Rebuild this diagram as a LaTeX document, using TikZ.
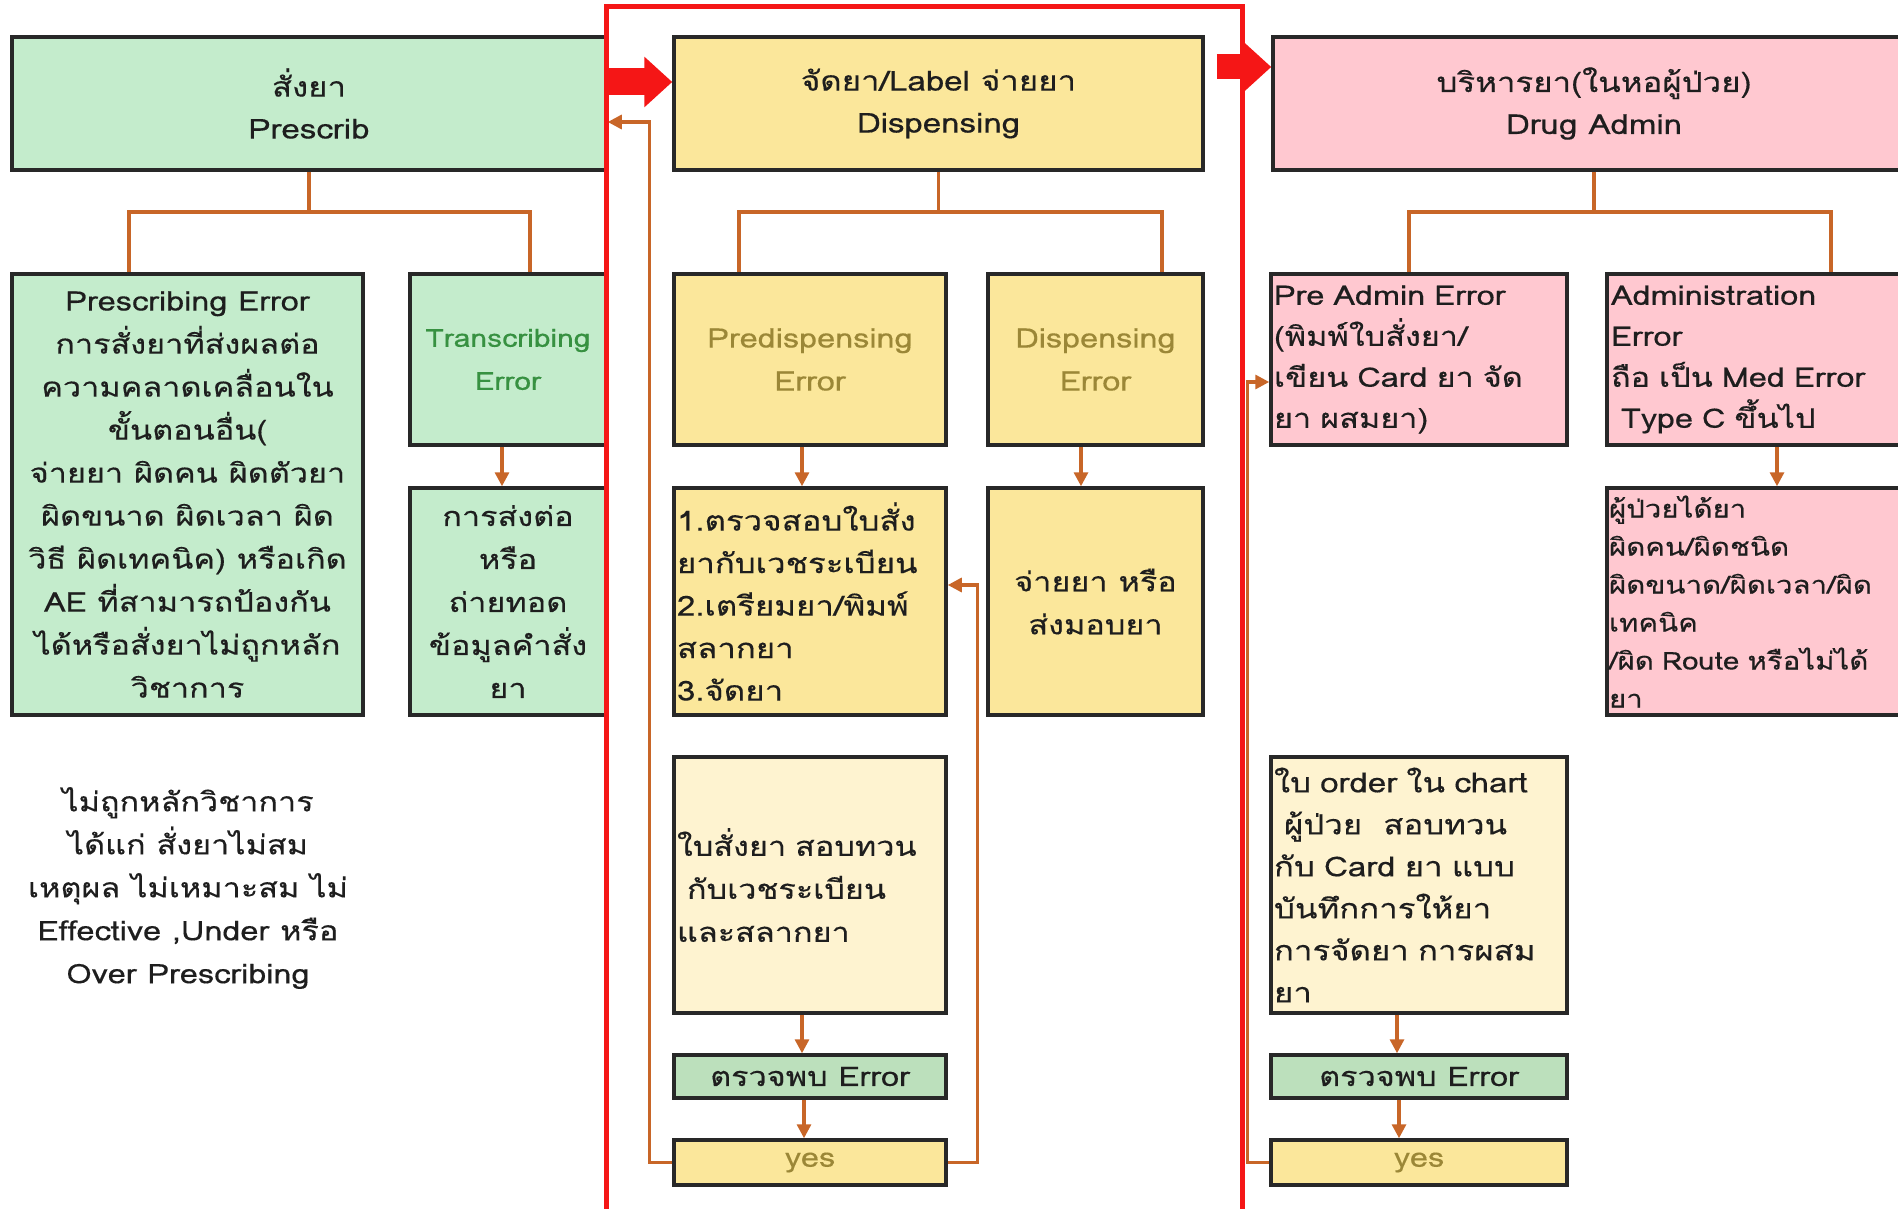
\documentclass[tikz,border=0pt]{standalone}
\usepackage{fontspec}
\setmainfont[Script=Thai,FakeStretch=1.2,FakeBold=0.35]{Loma}
\usetikzlibrary{arrows.meta,calc}
\definecolor{gfill}{RGB}{196,236,204}
\definecolor{yfill}{RGB}{251,231,155}
\definecolor{pfill}{RGB}{255,200,208}
\definecolor{cfill}{RGB}{254,243,208}
\definecolor{efill}{RGB}{188,224,188}
\definecolor{orng}{RGB}{200,102,40}
\definecolor{redl}{RGB}{245,22,22}
\definecolor{bord}{RGB}{40,40,40}
\definecolor{txt}{RGB}{30,30,30}
\definecolor{gtxt}{RGB}{55,145,65}
\definecolor{ytxt}{RGB}{155,135,55}
\tikzset{
  box/.style={draw=bord, line width=3.5pt, inner sep=0pt, text=txt, align=center,
    font=\fontsize{27}{43}\selectfont},
  titlebox/.style={box, minimum height=133pt, font=\fontsize{27.5}{42}\selectfont},
  lbox/.style={box, align=left, inner xsep=5pt},
  conn/.style={draw=orng, line width=3.2pt},
  arr/.style={conn, -{Triangle[length=14pt,width=14pt]}},
  bigarr/.style={draw=redl, -{Triangle[length=28pt,width=49pt]}},
}
\begin{document}
\begin{tikzpicture}[x=1pt,y=-1pt]
\useasboundingbox (0,0) rectangle (1898,1209);
\clip (0,0) rectangle (1898,1209);
\fill[white] (0,0) rectangle (1898,1209);

% titles
\node[titlebox, fill=gfill, minimum width=594pt] (presc) at (309,103.5) {สั่งยา\\Prescrib};
\node[titlebox, fill=yfill, minimum width=529pt] (disp) at (938.5,103.5) {จัดยา/Label จ่ายยา\\Dispensing};
\node[titlebox, fill=pfill, minimum width=642pt] (drug) at (1594,103.5) {บริหารยา(ในหอผู้ป่วย)\\Drug Admin};

% prescrib column
\node[box, fill=gfill, minimum width=351pt, minimum height=441pt] (perr) at (187.5,494.5)
  {Prescribing Error\\การสั่งยาที่ส่งผลต่อ\\ความคลาดเคลื่อนใน\\ขั้นตอนอื่น(\\จ่ายยา ผิดคน ผิดตัวยา\\ผิดขนาด ผิดเวลา ผิด\\วิธี ผิดเทคนิค) หรือเกิด\\AE ที่สามารถป้องกัน\\ได้หรือสั่งยาไม่ถูกหลัก\\วิชาการ};
\node[box, fill=gfill, minimum width=196pt, minimum height=171pt, text=gtxt, font=\fontsize{25}{43}\selectfont] (terr) at (508,359.5) {Transcribing\\Error};
\node[box, fill=gfill, minimum width=196pt, minimum height=227pt] (tres) at (508,601.5) {การส่งต่อ\\หรือ\\ถ่ายทอด\\ข้อมูลคำสั่ง\\ยา};
\node[align=center, text=txt, font=\fontsize{27}{43}\selectfont] (note) at (188,888)
  {ไม่ถูกหลักวิชาการ\\ได้แก่ สั่งยาไม่สม\\เหตุผล ไม่เหมาะสม ไม่\\Effective ,Under หรือ\\Over Prescribing};

% dispensing column
\node[box, fill=yfill, minimum width=272pt, minimum height=171pt, text=ytxt] (pderr) at (810,359.5) {Predispensing\\Error};
\node[box, fill=yfill, minimum width=215pt, minimum height=171pt, text=ytxt] (derr) at (1095.5,359.5) {Dispensing\\Error};
\node[lbox, fill=yfill, minimum width=272pt, minimum height=227pt, text width=266pt, inner xsep=3pt, font=\fontsize{27.5}{42.5}\selectfont] (pd1) at (810,601.5)
  {1.ตรวจสอบใบสั่ง\\ยากับเวชระเบียน\\2.เตรียมยา/พิมพ์\\สลากยา\\3.จัดยา};
\node[box, fill=yfill, minimum width=215pt, minimum height=227pt] (d1) at (1095.5,601.5) {จ่ายยา หรือ\\ส่งมอบยา};
\node[lbox, fill=cfill, minimum width=272pt, minimum height=256pt, text width=266pt, inner xsep=3pt] (chk1) at (810,885)
  {ใบสั่งยา สอบทวน\\\hspace*{10pt}กับเวชระเบียน\\และสลากยา};
\node[box, fill=efill, minimum width=272pt, minimum height=43pt] (det1) at (810,1076.5) {ตรวจพบ Error};
\node[box, fill=yfill, minimum width=272pt, minimum height=45pt, text=ytxt] (yes1) at (810,1162.5) {yes};

% drug admin column
\node[lbox, fill=pfill, minimum width=296pt, minimum height=171pt, text width=290pt, inner xsep=3pt, font=\fontsize{27}{41}\selectfont] (paerr) at (1419,359.5)
  {Pre Admin Error\\(พิมพ์ใบสั่งยา/\\เขียน Card ยา จัด\\ยา ผสมยา)};
\node[lbox, fill=pfill, minimum width=308pt, minimum height=171pt, text width=300pt, inner xsep=4pt, font=\fontsize{27}{41}\selectfont] (aerr) at (1761,359.5)
  {Administration\\Error\\ถือ เป็น Med Error\\\hspace*{10pt}Type C ขึ้นไป};
\node[lbox, fill=pfill, minimum width=308pt, minimum height=227pt, text width=304pt, inner xsep=2pt, font=\fontsize{24.5}{38}\selectfont] (a1) at (1761,601.5)
  {ผู้ป่วยได้ยา\\ผิดคน/ผิดชนิด\\ผิดขนาด/ผิดเวลา/ผิด\\เทคนิค\\/ผิด Route หรือไม่ได้\\ยา};
\node[lbox, fill=cfill, minimum width=296pt, minimum height=256pt, text width=290pt, inner xsep=3pt, font=\fontsize{27.5}{42}\selectfont] (chk2) at (1419,885)
  {ใบ order ใน chart\\\hspace*{10pt}ผู้ป่วย\hspace{12pt} สอบทวน\\กับ Card ยา แบบ\\บันทึกการให้ยา\\การจัดยา การผสม\\ยา};
\node[box, fill=efill, minimum width=296pt, minimum height=43pt] (det2) at (1419,1076.5) {ตรวจพบ Error};
\node[box, fill=yfill, minimum width=296pt, minimum height=45pt, text=ytxt] (yes2) at (1419,1162.5) {yes};

% tree connectors
\draw[conn] (presc.south) -- (presc.south |- 0,212);
\draw[conn] (perr.north -| 129,0) -- (129,212) -- (530,212) -- (terr.north -| 530,0);
\draw[conn] (disp.south) -- (disp.south |- 0,212);
\draw[conn] (pderr.north -| 739,0) -- (739,212) -- (1162,212) -- (derr.north -| 1162,0);
\draw[conn] (drug.south) -- (drug.south |- 0,212);
\draw[conn] (paerr.north -| 1409,0) -- (1409,212) -- (1831,212) -- (aerr.north -| 1831,0);

% downward arrows
\draw[arr] (terr.south -| 502,0) -- (tres.north -| 502,0);
\draw[arr] (pderr.south -| 802,0) -- (pd1.north -| 802,0);
\draw[arr] (derr.south -| 1081,0) -- (d1.north -| 1081,0);
\draw[arr] (aerr.south -| 1777,0) -- (a1.north -| 1777,0);
\draw[arr] (chk1.south -| 802,0) -- (det1.north -| 802,0);
\draw[arr] (det1.south -| 804,0) -- (yes1.north -| 804,0);
\draw[arr] (chk2.south -| 1397,0) -- (det2.north -| 1397,0);
\draw[arr] (det2.south -| 1399,0) -- (yes2.north -| 1399,0);

% feedback loops
\draw[arr] (yes1.west) -- ++(-23,0) |- (presc.east |- 0,122);
\draw[arr] (yes1.east) -- ++(30,0) |- (pd1.east |- 0,585);
\draw[arr] (yes2.west) -- ++(-22,0) |- (paerr.west |- 0,382);

% red frame and block arrows
\draw[redl, line width=5pt] (606,1250) -- (606,7) -- (1242,7) -- (1242,1250);
\draw[bigarr, line width=27pt] (presc.east |- 0,82) -- (disp.west |- 0,82);
\draw[bigarr, line width=25pt] ($(disp.east |- 0,67)+(12,0)$) -- (drug.west |- 0,67);
\end{tikzpicture}
\end{document}
